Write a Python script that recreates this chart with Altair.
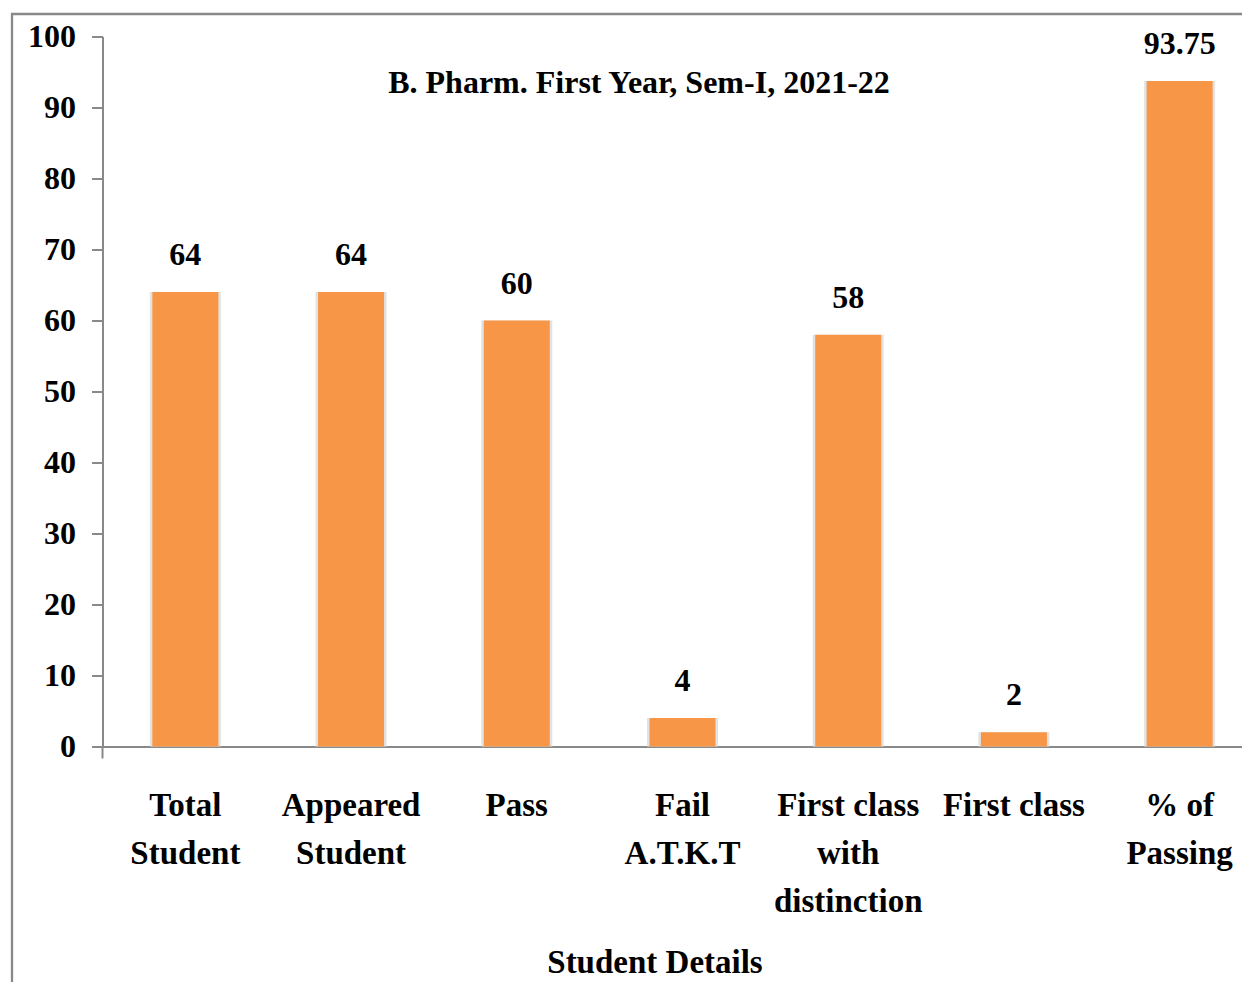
import altair as alt
import pandas as pd

categories = ["Total\nStudent", "Appeared\nStudent", "Pass", "Fail\nA.T.K.T",
              "First class\nwith\ndistinction", "First class", "% of\nPassing"]
values = [64, 64, 60, 4, 58, 2, 93.75]
value_labels = ["64", "64", "60", "4", "58", "2", "93.75"]
chart_title = "B. Pharm. First Year, Sem-I, 2021-22"
x_title = "Student Details"
y_ticks = [0, 10, 20, 30, 40, 50, 60, 70, 80, 90, 100]

df = pd.DataFrame({"cat": categories, "val": values, "lbl": value_labels})

FONT = "Liberation Serif"
GRAY = "#898989"
PAD_L, PAD_T = 94.5, 28.5
SVG_W, SVG_H = 1234, 974
W, H = SVG_W - PAD_L, 710
RANGE_W = 1160

xenc = alt.X("cat:N", sort=categories,
             scale=alt.Scale(range=[0, RANGE_W], paddingInner=0.6, paddingOuter=0.3),
             axis=alt.Axis(title=x_title, labelExpr="split(datum.label, '\\n')",
                           labelAngle=0, labelFont=FONT, labelFontSize=33,
                           labelFontWeight="bold", labelColor="black",
                           labelLineHeight=48, labelPadding=43, labelBaseline="top",
                           ticks=False, domainColor=GRAY, domainWidth=2,
                           titleFont=FONT, titleFontSize=33, titleFontWeight="bold",
                           titleColor="black", titleX=552, titleY=226,
                           titleAlign="center", titleBaseline="alphabetic",
                           labelLimit=400))
yenc = alt.Y("val:Q", scale=alt.Scale(domain=[0, 100], nice=False),
             axis=alt.Axis(title=None, values=y_ticks, grid=False, tickSize=11,
                           tickColor=GRAY, tickWidth=2, domainColor=GRAY,
                           domainWidth=2, labelFont=FONT, labelFontSize=32,
                           labelFontWeight="bold", labelColor="black",
                           labelPadding=16))

base = alt.Chart(df)

shadow = base.mark_bar(width=71, color="#e2e2e2").encode(x=xenc, y=yenc)
bars = base.mark_bar(width=66, color="#F79646").encode(x=xenc, y=yenc)
labels = base.mark_text(font=FONT, fontSize=32, fontWeight="bold", color="black",
                        baseline="alphabetic", dy=-27).encode(x=xenc, y=yenc, text="lbl:N")

title_df = pd.DataFrame({"t": [chart_title]})
title = alt.Chart(title_df).mark_text(font=FONT, fontSize=32, fontWeight="bold",
                                      color="black", baseline="alphabetic").encode(
    text="t:N", x=alt.value(536.5), y=alt.value(56))

frame_left = alt.Chart(title_df).mark_rule(color=GRAY, strokeWidth=2.3).encode(
    x=alt.value(-90.5), y=alt.value(-23.5), y2=alt.value(1000))
frame_top = alt.Chart(title_df).mark_rule(color=GRAY, strokeWidth=2.3).encode(
    x=alt.value(-91.5), x2=alt.value(1300), y=alt.value(-22.5))
first_tick = alt.Chart(title_df).mark_rule(color=GRAY, strokeWidth=2).encode(
    x=alt.value(0), y=alt.value(H), y2=alt.value(H + 12))

chart = alt.layer(frame_left, frame_top, shadow, bars, labels, title, first_tick).properties(
    width=W, height=H,
    autosize=alt.AutoSizeParams(type="none"),
    padding={"left": PAD_L, "top": PAD_T, "right": 0, "bottom": SVG_H - PAD_T - H},
    background="white",
).configure_view(stroke=None)

chart.save("out.html", embed_options={"renderer": "svg", "actions": False})
